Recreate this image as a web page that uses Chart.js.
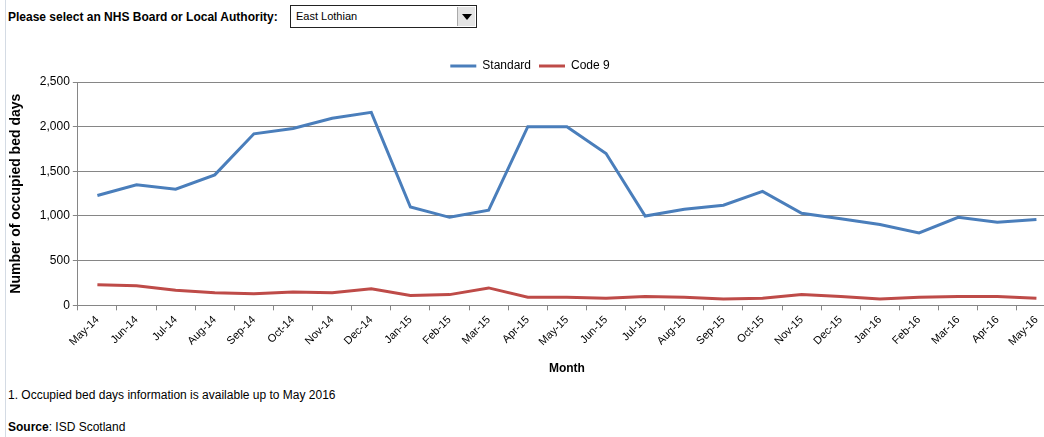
<!DOCTYPE html>
<html lang="en">
<head>
  <meta charset="UTF-8">
  <title>Occupied bed days</title>
  <script src="https://cdn.jsdelivr.net/npm/chart.js"></script>
  <style>
    body {
      margin: 0;
      width: 1044px;
      height: 437px;
      background: #ffffff;
      font-family: 'Liberation Sans', Arial, sans-serif;
      color: #000;
      position: relative;
      overflow: hidden;
    }
    .leftline { position: absolute; left: 5px; top: 0; width: 1px; height: 437px; background: #d4dbe4; }
    .prompt { position: absolute; left: 8px; top: 10px; font-size: 12px; font-weight: bold; }
    .select {
      position: absolute; left: 290px; top: 5px; width: 187px; height: 23px;
      border: 1px solid #222; font-size: 11px; line-height: 21px; padding-left: 5px; box-sizing: border-box;
    }
    .arrow {
      position: absolute; right: 1px; top: 1px; width: 17px; height: 19px;
      background: #e4e4e4; border-left: 1px solid #aaa;
    }
    .arrow:after {
      content: ''; position: absolute; left: 4px; top: 7px;
      border-left: 5px solid transparent; border-right: 5px solid transparent; border-top: 6px solid #000;
    }
    .chartbox { position: absolute; left: 0; top: 42px; width: 1060px; height: 336px; }
    .note { position: absolute; left: 8px; top: 388px; font-size: 12px; }
    .source { position: absolute; left: 8px; top: 420px; font-size: 12px; }
  </style>
</head>
<body>
  <div class="leftline"></div>
  <div class="prompt">Please select an NHS Board or Local Authority:</div>
  <div class="select">East Lothian<div class="arrow"></div></div>

  <div class="chartbox"><canvas id="grafico" width="1060" height="336"></canvas></div>

  <div class="note">1. Occupied bed days information is available up to May 2016</div>
  <div class="source"><b>Source</b>: ISD Scotland</div>

  <script>
    const months = ['May-14', 'Jun-14', 'Jul-14', 'Aug-14', 'Sep-14', 'Oct-14', 'Nov-14', 'Dec-14',
      'Jan-15', 'Feb-15', 'Mar-15', 'Apr-15', 'May-15', 'Jun-15', 'Jul-15', 'Aug-15', 'Sep-15',
      'Oct-15', 'Nov-15', 'Dec-15', 'Jan-16', 'Feb-16', 'Mar-16', 'Apr-16', 'May-16'];
    const standard = [1230, 1350, 1300, 1460, 1920, 1980, 2095, 2160, 1100, 985, 1065, 2000, 2000,
      1700, 1000, 1075, 1120, 1275, 1030, 970, 905, 810, 985, 930, 960];
    const code9 = [230, 220, 170, 140, 130, 150, 140, 185, 110, 120, 195, 90, 90,
      80, 100, 90, 70, 80, 120, 100, 70, 90, 100, 100, 80];
    const yTicks = [0, 500, 1000, 1500, 2000, 2500];

    const ctx = document.getElementById('grafico').getContext('2d');
    new Chart(ctx, {
      type: 'line',
      data: {
        labels: months,
        datasets: [
          { label: 'Standard', data: standard, borderColor: '#4a7ebb', backgroundColor: '#4a7ebb',
            borderWidth: 3, pointRadius: 0, tension: 0 },
          { label: 'Code 9', data: code9, borderColor: '#be4b48', backgroundColor: '#be4b48',
            borderWidth: 3, pointRadius: 0, tension: 0 }
        ]
      },
      options: {
        responsive: false,
        animation: false,
        layout: { padding: { left: 4, right: 4, top: 10, bottom: 0 } },
        plugins: {
          legend: {
            labels: {
              color: '#000', font: { family: 'Liberation Sans', size: 12 },
              usePointStyle: true, pointStyle: 'line', pointStyleWidth: 26, boxHeight: 8, padding: 8
            }
          },
          tooltip: { enabled: false }
        },
        scales: {
          x: {
            offset: true,
            grid: { offset: true, drawOnChartArea: false, color: '#868686', tickLength: 5 },
            border: { color: '#868686' },
            ticks: { color: '#000', font: { family: 'Liberation Sans', size: 11 }, minRotation: 45, maxRotation: 45, autoSkip: false },
            title: { display: true, text: 'Month', color: '#000', padding: { top: 10, bottom: 2 },
              font: { family: 'Liberation Sans', size: 12, weight: 'bold' } }
          },
          y: {
            min: 0, max: 2500,
            afterBuildTicks: axis => { axis.ticks = yTicks.map(v => ({ value: v })); },
            grid: { color: '#868686', tickLength: 5 },
            border: { color: '#868686' },
            ticks: { color: '#000', font: { family: 'Liberation Sans', size: 12 },
              callback: v => v.toLocaleString('en-GB') },
            title: { display: true, text: 'Number of occupied bed days', color: '#000', padding: { top: 4, bottom: 12 },
              font: { family: 'Liberation Sans', size: 14, weight: 'bold' } }
          }
        }
      }
    });
  </script>
</body>
</html>
